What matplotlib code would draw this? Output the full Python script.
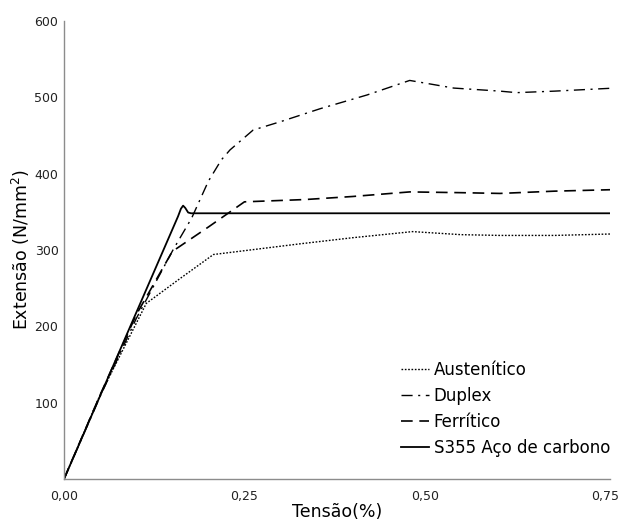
import matplotlib
matplotlib.use("Agg")
import matplotlib.pyplot as plt
from matplotlib.ticker import FixedLocator, FuncFormatter

# Tensão (%) / Extensão (N/mm²)
aust_x = [0, 0.05, 0.114, 0.160, 0.207, 0.25, 0.327, 0.40, 0.483, 0.55, 0.604, 0.68, 0.763]
aust_y = [0, 110, 230, 262, 294, 299, 308, 316, 324, 320, 319, 319, 321]

duplex_x = [0, 0.05, 0.10, 0.151, 0.177, 0.20, 0.218, 0.23, 0.262, 0.30, 0.355, 0.42, 0.479,
            0.54, 0.604, 0.627, 0.68, 0.763]
duplex_y = [0, 108, 210, 300, 342, 390, 418, 431, 457, 468, 485, 503, 522,
            512, 508, 506, 508, 512]

ferr_x = [0, 0.05, 0.10, 0.15, 0.20, 0.25, 0.334, 0.40, 0.479, 0.55, 0.604, 0.68, 0.763]
ferr_y = [0, 110, 215, 298, 330, 363, 366, 370, 376, 375, 374, 377, 379]

s355_x = [0, 0.158, 0.162, 0.165, 0.168, 0.172, 0.176, 0.763]
s355_y = [0, 344, 354, 358, 355, 349, 348, 348]

labels = ["Austenítico", "Duplex", "Ferrítico", "S355 Aço de carbono"]
x_ticks = [0, 0.25, 0.50, 0.75]
y_ticks = [100, 200, 300, 400, 500, 600]

plt.rcParams['font.family'] = ['DejaVu Sans']
fig = plt.figure(figsize=(6.18, 5.22), dpi=100)
ax = fig.add_axes([0.1036, 0.0824, 0.884, 0.8776])

ax.plot(aust_x, aust_y, color='black', lw=1.0, linestyle=(0, (1.2, 1.2)), label=labels[0])
ax.plot(duplex_x, duplex_y, color='black', lw=1.0, linestyle=(0, (8, 4, 1.5, 4)), label=labels[1])
ax.plot(ferr_x, ferr_y, color='black', lw=1.2, linestyle=(0, (7, 4)), label=labels[2])
ax.plot(s355_x, s355_y, color='black', lw=1.3, label=labels[3])

ax.set_xlim(0, 0.757)
ax.set_ylim(0, 600)
ax.xaxis.set_major_locator(FixedLocator(x_ticks))
ax.yaxis.set_major_locator(FixedLocator(y_ticks))
ax.xaxis.set_major_formatter(FuncFormatter(lambda v, p: f"{v:.2f}".replace('.', ',')))
ax.tick_params(length=0, labelsize=9, colors='#222222')
ax.tick_params(axis='x', pad=8)
ax.tick_params(axis='y', pad=4)

for s in ['top', 'right']:
    ax.spines[s].set_visible(False)
for s in ['left', 'bottom']:
    ax.spines[s].set_color('#8c8c8c')
    ax.spines[s].set_linewidth(1.0)

ax.set_xlabel('Tensão(%)', fontsize=12.5, labelpad=0)
ax.set_ylabel('Extensão (N/mm$^2$)', fontsize=12.5, labelpad=2)

ax.legend(loc='lower left', frameon=False, fontsize=12, handlelength=1.7,
          handletextpad=0.25, labelspacing=0.47, borderpad=0, borderaxespad=0,
          bbox_to_anchor=(0.617, 0.049))

fig.savefig('out.png', dpi=100)
